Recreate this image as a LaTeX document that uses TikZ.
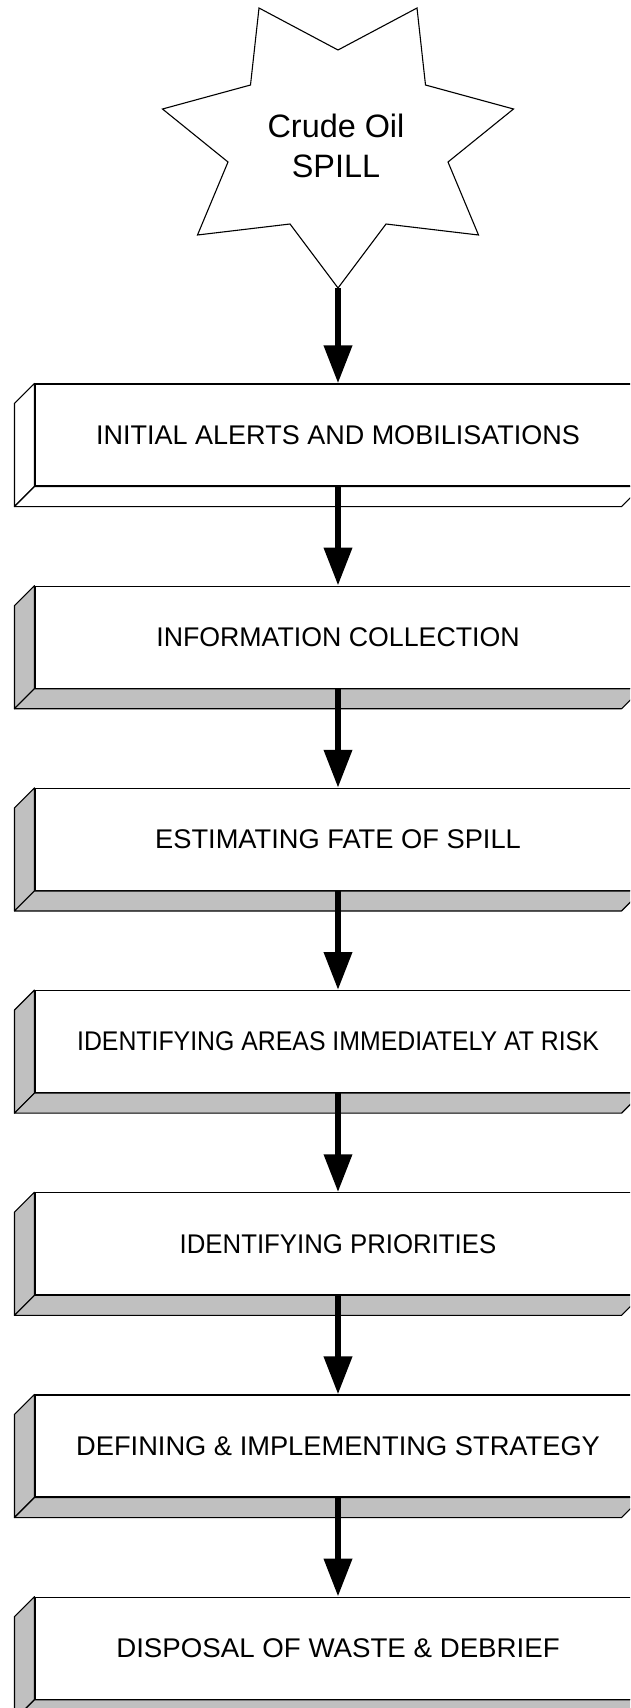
\documentclass[tikz,border=0pt]{standalone}
\usepackage{graphicx}
\usepackage{fontspec}
\setmainfont{Liberation Sans}
\usetikzlibrary{arrows.meta}
\definecolor{bevelgray}{HTML}{C0C0C0}
\begin{document}
\begin{tikzpicture}[x=1pt,y=-1pt,
  stagebox/.style={draw, line width=1.1pt, fill=white, minimum width=606pt,
    minimum height=102pt, inner sep=0pt, font=\fontsize{27}{32}\selectfont},
  bevel/.style={draw, line width=1.1pt, line join=round},
  flow/.style={line width=6.7pt, -{Triangle[width=27pt,length=38pt]}},
  startext/.style={align=center, font=\fontsize{32.4}{40}\selectfont, inner sep=0pt}]
\path[use as bounding box] (0,0) rectangle (630,1708);
\clip (0,0) rectangle (630,1708);

% seven-pointed burst at the top
\draw[line width=1.1pt, line join=miter, fill=white]
  (259,8) -- (338,50) -- (417,8) -- (425.5,85) -- (513.5,109) -- (448,162)
  -- (478.5,235) -- (386,224) -- (338,288) -- (290,224) -- (197.5,235)
  -- (228,162) -- (162.5,109) -- (250.5,85) -- cycle;
\coordinate (spilltip) at (338,288);
\node[startext] (spill) at (336,146) {Crude Oil\\SPILL};

% stage boxes with a bevelled left and bottom edge; the label is
% stretched or squeezed a little horizontally to its set width
\foreach \i/\bev/\sx/\txt in {
  1/white/1.0/{INITIAL ALERTS AND MOBILISATIONS},
  2/bevelgray/0.99/{INFORMATION COLLECTION},
  3/bevelgray/1.01/{ESTIMATING FATE OF SPILL},
  4/bevelgray/0.92/{IDENTIFYING AREAS IMMEDIATELY AT RISK},
  5/bevelgray/0.955/{IDENTIFYING PRIORITIES},
  6/bevelgray/1.01/{DEFINING \& IMPLEMENTING STRATEGY},
  7/bevelgray/1.025/{DISPOSAL OF WASTE \& DEBRIEF}} {
  \node[stagebox] (s\i) at (338,{435+(\i-1)*202.2}) {\scalebox{\sx}[1]{\txt}};
  \filldraw[bevel, fill=\bev] (s\i.north west) -- ([shift={(-20,20)}]s\i.north west)
    -- ([shift={(-20,20)}]s\i.south west) -- (s\i.south west) -- cycle;
  \filldraw[bevel, fill=\bev] (s\i.south west) -- ([shift={(-20,20)}]s\i.south west)
    -- ([shift={(-20,20)}]s\i.south east) -- (s\i.south east) -- cycle;
}

% flow arrows
\draw[flow] (spilltip) -- (s1.north);
\foreach \a/\b in {1/2,2/3,3/4,4/5,5/6,6/7}
  \draw[flow] (s\a.south) -- (s\b.north);
\end{tikzpicture}
\end{document}
